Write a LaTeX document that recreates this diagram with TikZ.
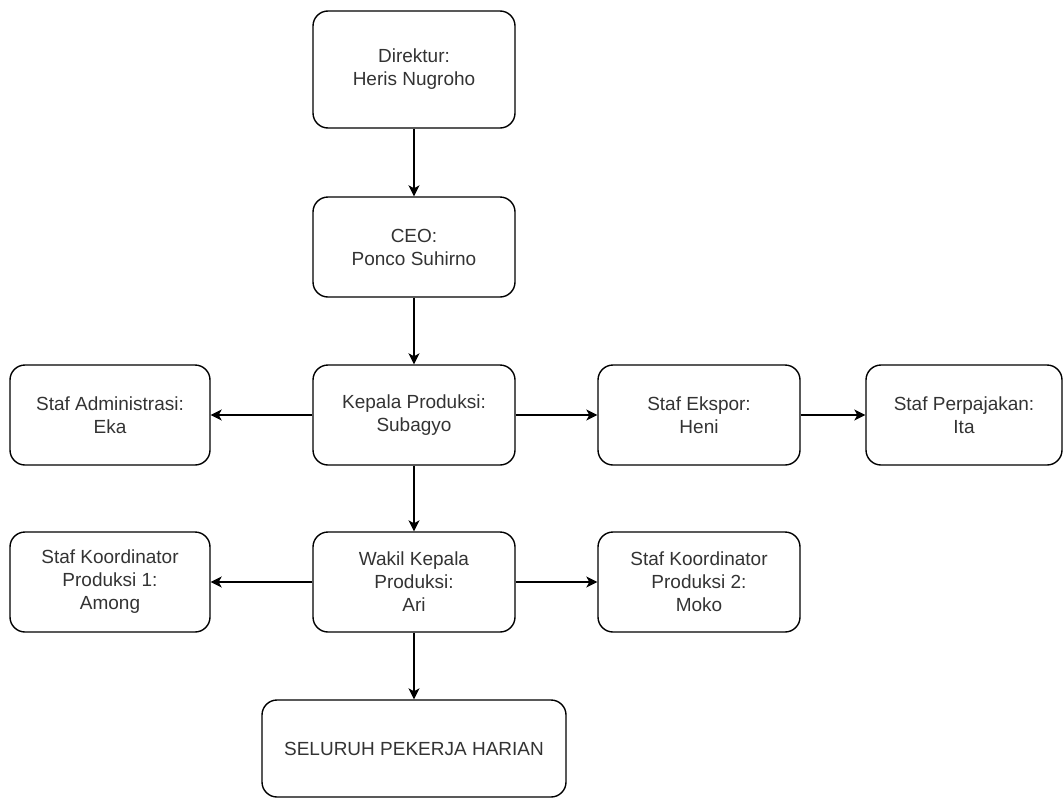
\documentclass[tikz,border=0pt]{standalone}
\usepackage{fontspec}
\setmainfont{Liberation Sans}
\usetikzlibrary{arrows.meta}
\definecolor{txtgray}{HTML}{333333}

\begin{document}
\begin{tikzpicture}[x=1pt, y=-1pt,
    box/.style={draw=black, line width=1.4pt, rounded corners=15pt,
      minimum width=202pt, minimum height=100pt, inner sep=0pt,
      align=center, text=txtgray, font=\fontsize{19}{23}\selectfont},
    link/.style={line width=1.4pt, -{Stealth[length=11pt, width=11pt, inset=3pt]}}]
  \useasboundingbox (0,0) rectangle (1064,798);
  % top of the chain
  \node[box, minimum height=117pt] (dir) at (414,69.5) {Direktur:\\Heris Nugroho};
  \node[box] (ceo) at (414,247) {CEO:\\Ponco Suhirno};
  % kepala row
  \node[box] (kp)  at (414,415) {Kepala Produksi:\\Subagyo};
  \node[box, minimum width=200pt] (adm) at (110,415) {Staf Administrasi:\\Eka};
  \node[box] (eks) at (699,415) {Staf Ekspor:\\Heni};
  \node[box, minimum width=196pt] (paj) at (964,415) {Staf Perpajakan:\\Ita};
  % wakil row
  \node[box] (wkp) at (414,582) {Wakil Kepala\\Produksi:\\Ari};
  \node[box, minimum width=200pt] (ko1) at (110,582) {Staf Koordinator\\Produksi 1:\\Among};
  \node[box] (ko2) at (699,582) {Staf Koordinator\\Produksi 2:\\Moko};
  \node[box, minimum width=304pt, minimum height=97pt] (all) at (414,748.5) {SELURUH PEKERJA HARIAN};

  \draw[link] (dir) -- (ceo);
  \draw[link] (ceo) -- (kp);
  \draw[link] (kp) -- (adm);
  \draw[link] (kp) -- (eks);
  \draw[link] (eks) -- (paj);
  \draw[link] (kp) -- (wkp);
  \draw[link] (wkp) -- (ko1);
  \draw[link] (wkp) -- (ko2);
  \draw[link] (wkp) -- (all);
\end{tikzpicture}
\end{document}
